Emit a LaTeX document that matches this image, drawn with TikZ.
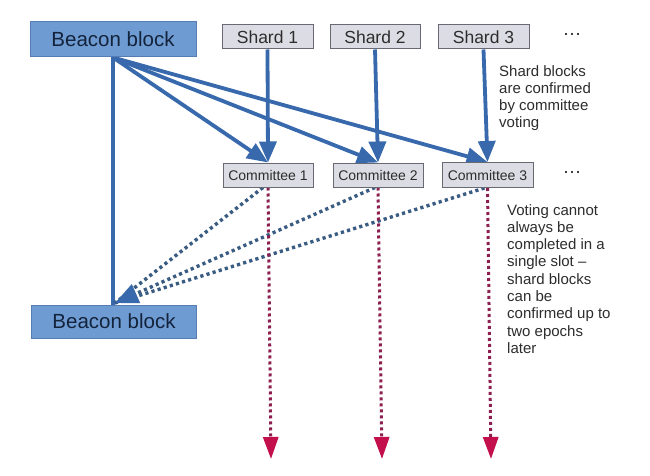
\documentclass[tikz,border=0pt]{standalone}
\usepackage{fontspec}
\setmainfont{Liberation Sans}
\usetikzlibrary{arrows.meta,backgrounds}
\definecolor{beaconfill}{RGB}{110,155,210}
\definecolor{beacondraw}{RGB}{85,125,180}
\definecolor{beacontext}{RGB}{20,35,60}
\definecolor{boxfill}{RGB}{220,220,228}
\definecolor{boxdraw}{RGB}{105,105,115}
\definecolor{txt}{RGB}{45,45,45}
\definecolor{blueline}{RGB}{55,105,172}
\definecolor{dotblue}{RGB}{58,92,130}
\definecolor{dotred}{RGB}{140,30,80}
\definecolor{headred}{RGB}{195,15,75}
\begin{document}
\begin{tikzpicture}[x=1pt,y=-1pt,
  beacon/.style={draw=beacondraw,fill=beaconfill,line width=1pt,inner sep=0pt,text=beacontext,font=\fontsize{20.5}{24}\selectfont},
  shardbox/.style={draw=boxdraw,fill=boxfill,line width=1pt,inner sep=0pt,minimum height=24pt,text=txt,font=\fontsize{17.5}{20}\selectfont},
  combox/.style={draw=boxdraw,fill=boxfill,line width=1pt,inner sep=0pt,minimum height=24pt,text=txt,font=\fontsize{14}{16}\selectfont},
  bluearrow/.style={draw=blueline,line width=3.8pt,-{Triangle[length=21pt,width=17pt]}},
  blueplain/.style={draw=blueline,line width=3.8pt},
  dotbluestyle/.style={draw=dotblue,line width=3.4pt,dash pattern=on 3.2pt off 3.2pt},
  dotredstyle/.style={draw=dotred,line width=3pt,dash pattern=on 3pt off 3pt,-{Triangle[length=22pt,width=15pt,color=headred]}},
  note/.style={inner sep=0pt,align=left,text=txt,font=\fontsize{15}{17.3}\selectfont,anchor=north west},
  dots/.style={inner sep=0pt,text=txt,font=\fontsize{19}{20}\selectfont}]
\useasboundingbox (0,0) rectangle (650,476);

\node[beacon,minimum width=166pt,minimum height=35pt] (b1) at (113,39.5) {Beacon block};
\node[beacon,minimum width=165pt,minimum height=33pt] (b2) at (114,321.5) {Beacon block};

\node[shardbox,minimum width=91pt] (s1) at (267.5,37) {Shard 1};
\node[shardbox,minimum width=90pt] (s2) at (375,37) {Shard 2};
\node[shardbox,minimum width=91pt] (s3) at (483.5,37) {Shard 3};
\node[dots] (sd) at (572,34) {…};

\node[combox,minimum width=90pt] (c1) at (268,175) {Committee 1};
\node[combox,minimum width=90pt] (c2) at (378,175) {Committee 2};
\node[combox,minimum width=91pt,minimum height=25pt] (c3) at (487.5,175) {Committee 3};
\node[dots] (cd) at (572,172) {…};

\node[note] (n1) at (499,65) {Shard blocks\\are confirmed\\by committee\\voting};
\node[note] (n2) at (507,204) {Voting cannot\\always be\\completed in a\\single slot –\\shard blocks\\can be\\confirmed up to\\two epochs\\later};

\coordinate (tipb) at (115,303);
\coordinate (r1) at (271,459);
\coordinate (r2) at (382,459);
\coordinate (r3) at (491,459);

\begin{pgfonlayer}{background}
\fill[white] (0,0) rectangle (650,476);
\draw[blueplain] (b1.south) -- (b1.south |- b2.north);
\draw[bluearrow] (b1.south) -- (c1.north);
\draw[bluearrow] (b1.south) -- (c2.north);
\draw[bluearrow] (b1.south) -- (c3.north);
\draw[bluearrow] (s1.south) -- (c1.north);
\draw[bluearrow] (s2.south) -- (c2.north);
\draw[bluearrow] (s3.south) -- (c3.north);

\draw[dotbluestyle] ([xshift=-5pt]c1.south) -- (tipb);
\draw[dotbluestyle] ([xshift=-3pt]c3.south) -- (tipb);
\draw[dotbluestyle,-{Triangle[length=23pt,width=20pt,color=blueline]}] ([xshift=-3pt]c2.south) -- (tipb);

\draw[dotredstyle] (c1.south) -- (r1);
\draw[dotredstyle] (c2.south) -- (r2);
\draw[dotredstyle] (c3.south) -- (r3);
\end{pgfonlayer}
\end{tikzpicture}
\end{document}
